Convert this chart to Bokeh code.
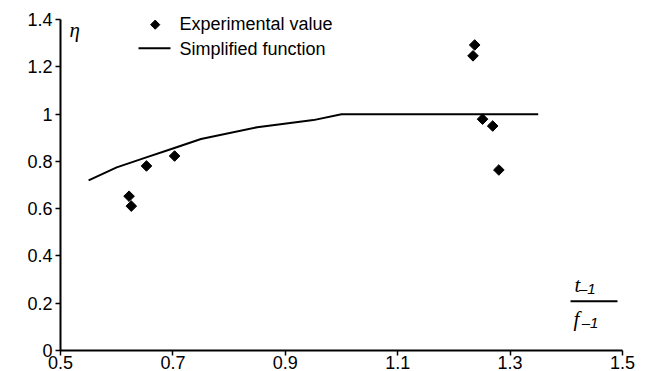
from bokeh.plotting import figure
from bokeh.models import Label, FixedTicker
from bokeh.embed import file_html
from bokeh.resources import INLINE
import math

# ---- data ----
curve_x = [0.55, 0.60, 0.65, 0.70, 0.75, 0.85, 0.95, 1.00, 1.35]
curve_y = [0.72, 0.775, 0.815, 0.855, 0.895, 0.945, 0.975, 1.00, 1.00]

exp_x = [0.622, 0.626, 0.653, 0.703, 1.234, 1.237, 1.251, 1.269, 1.280]
exp_y = [0.653, 0.611, 0.781, 0.823, 1.247, 1.293, 0.979, 0.950, 0.764]

x_ticks = [0.5, 0.7, 0.9, 1.1, 1.3, 1.5]
x_tick_labels = ["0.5", "0.7", "0.9", "1.1", "1.3", "1.5"]
y_ticks = [0, 0.2, 0.4, 0.6, 0.8, 1, 1.2, 1.4]
y_tick_labels = ["0", "0.2", "0.4", "0.6", "0.8", "1", "1.2", "1.4"]

legend_labels = ["Experimental value", "Simplified function"]

FONT = "Liberation Sans"
SERIF = "Liberation Serif"

p = figure(width=645, height=371, output_backend="svg", toolbar_location=None,
           x_range=(0.5, 1.5), y_range=(0, 1.46),
           min_border_left=60, min_border_right=23, min_border_top=5, min_border_bottom=0)
p.outline_line_color = None
p.grid.visible = False
p.background_fill_color = "white"
p.border_fill_color = "white"

for ax in (p.xaxis[0], p.yaxis[0]):
    ax.axis_line_width = 2
    ax.axis_line_color = "black"
    ax.major_tick_line_width = 1.5
    ax.major_tick_line_color = "black"
    ax.major_tick_in = 0
    ax.major_tick_out = 5
    ax.minor_tick_line_color = None
    ax.major_label_text_font = FONT
    ax.major_label_text_font_size = "18px"
    ax.major_label_text_color = "black"

p.xaxis[0].major_label_standoff = 0
p.yaxis[0].major_label_standoff = 3
p.yaxis[0].bounds = (0, 1.4)
p.xaxis[0].ticker = FixedTicker(ticks=x_ticks)
p.xaxis[0].major_label_overrides = dict(zip(x_ticks, x_tick_labels))
p.yaxis[0].ticker = FixedTicker(ticks=y_ticks)
p.yaxis[0].major_label_overrides = dict(zip(y_ticks, y_tick_labels))

# series
p.line(curve_x, curve_y, line_color="black", line_width=2)
p.scatter(exp_x, exp_y, marker="square", angle=math.pi / 4, size=7.5,
          fill_color="black", line_color="black")

# legend (drawn in plot space so the diamond keeps its 45 degree rotation)
p.scatter([0.6685], [1.3788], marker="square", angle=math.pi / 4, size=6.5,
          fill_color="black", line_color="black")
p.segment(x0=[0.6388], y0=[1.279], x1=[0.6957], y1=[1.279], line_color="black", line_width=2)
p.add_layout(Label(x=0.7117, y=1.3831, text=legend_labels[0], text_font=FONT, text_color="black",
                   text_font_size="18px", text_baseline="middle", text_align="left"))
p.add_layout(Label(x=0.7117, y=1.277, text=legend_labels[1], text_font=FONT, text_color="black",
                   text_font_size="18px", text_baseline="middle", text_align="left"))

# axis symbols
p.add_layout(Label(x=0.516, y=1.3576, text="η", text_font=SERIF, text_font_style="italic",
                   text_color="black", text_font_size="21px", text_align="left",
                   text_baseline="alphabetic"))
p.add_layout(Label(x=1.4146, y=0.276, text="t", text_font=SERIF, text_font_style="italic",
                   text_color="black", text_font_size="21px", text_align="left",
                   text_baseline="alphabetic"))
p.add_layout(Label(x=1.4225, y=0.262, text="–1", text_font=FONT, text_font_style="italic",
                   text_color="black", text_font_size="15px", text_align="left",
                   text_baseline="alphabetic"))
p.segment(x0=[1.4075], y0=[0.208], x1=[1.4911], y1=[0.208], line_color="black", line_width=2)
p.add_layout(Label(x=1.4128, y=0.132, text="f", text_font=SERIF, text_font_style="italic",
                   text_color="black", text_font_size="21px", text_align="left",
                   text_baseline="alphabetic"))
p.add_layout(Label(x=1.4275, y=0.118, text="–1", text_font=FONT, text_font_style="italic",
                   text_color="black", text_font_size="15px", text_align="left",
                   text_baseline="alphabetic"))

open("out.html", "w").write(file_html(p, INLINE))
